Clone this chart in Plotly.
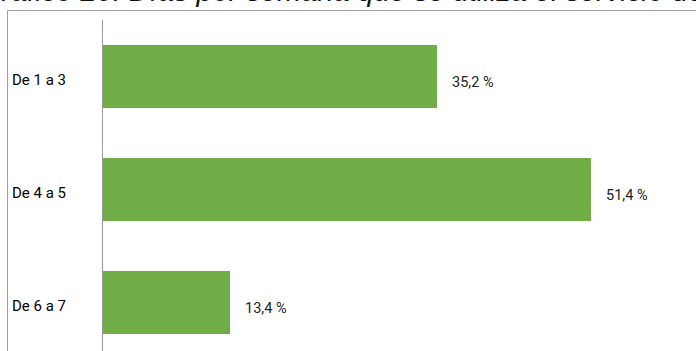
import plotly.graph_objects as go

# Días por semana que se utiliza el servicio
categorias = ["De 1 a 3", "De 4 a 5", "De 6 a 7"]
porcentajes = [35.2, 51.4, 13.4]
etiquetas = ["35,2 %", "51,4 %", "13,4 %"]

titulo = "Gráfico 20: Días por semana que se utiliza el servicio de comedor"

W, H = 696, 351
ML, MT = 103, 20
plot_w = W - ML
plot_h = H - MT
px_por_unidad = 9.49
paso_cat = 113.0


def px_x(p):
    return (p - ML) / plot_w


def px_y(p):
    return (H - p) / plot_h


fig = go.Figure(
    go.Bar(
        x=porcentajes,
        y=list(range(len(categorias))),
        orientation="h",
        width=0.566,
        marker=dict(color="#70AD47", line=dict(width=0)),
        hoverinfo="skip",
    )
)

anotaciones = []
for i, (cat, val, txt) in enumerate(zip(categorias, porcentajes, etiquetas)):
    anotaciones.append(dict(
        x=px_x(10), xref="paper", xanchor="left",
        y=i, yref="y", yanchor="middle", yshift=-3,
        text=cat, showarrow=False,
        font=dict(family="Roboto", size=15, color="#000000"),
    ))
    anotaciones.append(dict(
        x=val, xref="x", xanchor="left", xshift=13,
        y=i, yref="y", yanchor="middle", yshift=-6,
        text=txt, showarrow=False,
        font=dict(family="Roboto", size=14.5, color="#222222"),
    ))

anotaciones.append(dict(
    x=px_x(-23), xref="paper", xanchor="left",
    y=px_y(9), yref="paper", yanchor="bottom",
    text="<i>" + titulo + "</i>", showarrow=False,
    font=dict(family="Liberation Sans", size=29, color="#111111"),
))

fig.update_layout(
    width=W, height=H,
    margin=dict(l=ML, r=0, t=MT, b=0, pad=0),
    paper_bgcolor="white", plot_bgcolor="white",
    showlegend=False,
    bargap=0,
    xaxis=dict(range=[0, plot_w / px_por_unidad], visible=False, fixedrange=True),
    yaxis=dict(
        range=[-0.5 + plot_h / paso_cat, -0.5],
        showticklabels=False, ticks="", showgrid=False, zeroline=False,
        showline=True, linecolor="#9a9a9a", linewidth=1,
        fixedrange=True,
    ),
    annotations=anotaciones,
    shapes=[dict(
        type="rect", xref="paper", yref="paper",
        x0=px_x(7.5), x1=px_x(W + 20), y0=px_y(H + 20), y1=px_y(10.5),
        line=dict(color="#a0a0a0", width=1), fillcolor="rgba(0,0,0,0)",
        layer="below",
    )],
)

fig.write_html("out.html", config={"displayModeBar": False})
